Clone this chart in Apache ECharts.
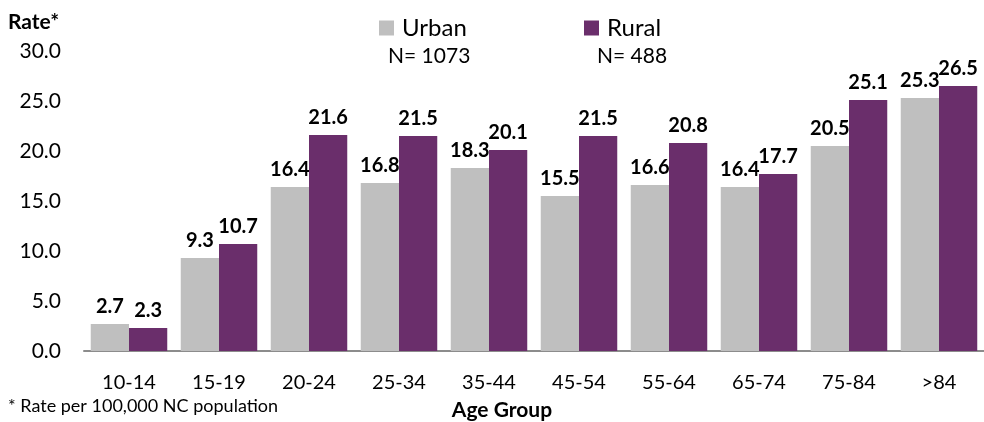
<!DOCTYPE html>
<html><head><meta charset="utf-8">
<script src="https://cdn.jsdelivr.net/npm/echarts@6/dist/echarts.min.js"></script>
<style>html,body{margin:0;padding:0;background:#fff}#c{width:984px;height:422px}</style>
</head><body><div id="c"></div>
<script>
const categories = ['10-14','15-19','20-24','25-34','35-44','45-54','55-64','65-74','75-84','>84'];
const urban = [2.7, 9.3, 16.4, 16.8, 18.3, 15.5, 16.6, 16.4, 20.5, 25.3];
const rural = [2.3, 10.7, 21.6, 21.5, 20.1, 21.5, 20.8, 17.7, 25.1, 26.5];
const seriesNames = ['Urban', 'Rural'];
const seriesN = ['N= 1073', 'N= 488'];
const FONT = 'Lato';
const chart = echarts.init(document.getElementById('c'));
const lbl = {show:true, position:'top', distance:7, fontFamily:FONT, fontWeight:'bold', fontSize:20, color:'#000', formatter: p => p.value.toFixed(1)};
const legText = {fontFamily:FONT, fontSize:24, color:'#000', padding:[0,0,0,3]};
chart.setOption({
  animation:false,
  textStyle:{fontFamily:FONT},
  grid:{left:84, right:-7, top:51, bottom:71, containLabel:false},
  legend:[
    {data:[seriesNames[0]], left:379, top:16, padding:0, itemWidth:15, itemHeight:15, icon:'rect', textStyle:legText},
    {data:[seriesNames[1]], left:584, top:16, padding:0, itemWidth:15, itemHeight:15, icon:'rect', textStyle:legText}
  ],
  graphic:[
    {type:'text', left:8, top:12, style:{text:'Rate*', fontFamily:FONT, fontWeight:'bold', fontSize:21, fill:'#000'}},
    {type:'text', left:388, top:46, style:{text:seriesN[0], fontFamily:FONT, fontSize:21, fill:'#000'}},
    {type:'text', left:597, top:46, style:{text:seriesN[1], fontFamily:FONT, fontSize:21, fill:'#000'}},
    {type:'text', left:8, top:397, style:{text:'* Rate per 100,000 NC population', fontFamily:FONT, fontSize:18, fill:'#000'}},
    {type:'text', x:502, y:400, style:{text:'Age Group', textAlign:'center', fontFamily:FONT, fontWeight:'bold', fontSize:21, fill:'#000'}}
  ],
  xAxis:{type:'category', data:categories,
    axisLine:{lineStyle:{color:'#8c8c8c', width:2}}, axisTick:{show:false},
    axisLabel:{fontFamily:FONT, fontSize:20, color:'#000', margin:22}
  },
  yAxis:{type:'value', min:0, max:30, interval:5,
    axisLine:{show:false}, axisTick:{show:false}, splitLine:{show:false},
    axisLabel:{fontFamily:FONT, fontSize:21, color:'#000', margin:23, formatter: v => v.toFixed(1)}
  },
  series:[
    {name:seriesNames[0], type:'bar', data:urban, itemStyle:{color:'#bfbfbf'}, barGap:'0%', barCategoryGap:'15%', label:lbl},
    {name:seriesNames[1], type:'bar', data:rural, itemStyle:{color:'#6a2e6b'}, barGap:'0%', barCategoryGap:'15%', label:lbl}
  ]
});
</script></body></html>
